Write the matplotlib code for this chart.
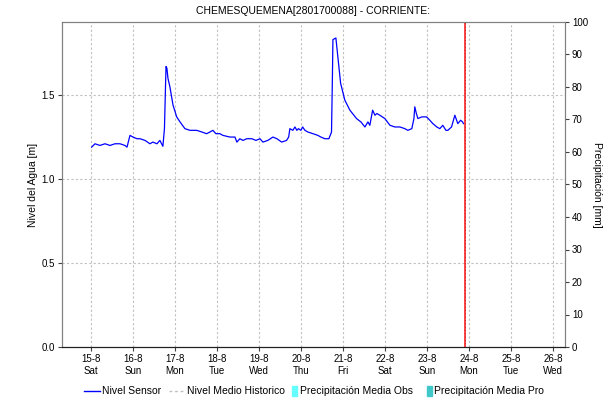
import numpy as np
import matplotlib.pyplot as plt
from matplotlib.lines import Line2D
from matplotlib.patches import Rectangle

plt.rcParams['font.family'] = ['Liberation Sans', 'DejaVu Sans']

# horas desde 15-8 00:00 y nivel del sensor [m]
horas = [0.4, 2.3, 5.1, 8, 10.9, 13.7, 16.6, 19.4, 20.6, 22.3, 24, 26.3, 28, 30.9,
         33.7, 35.4, 37.7, 39.4, 41.1, 42, 42.6, 42.9, 43.4, 44, 45.1, 46.9, 49,
         50.9, 53.7, 56.6, 60.4, 63.4, 66.1, 68, 69.7, 71.4, 73.7, 75.4, 79.4,
         82.3, 83.4, 85.1, 86.9, 89, 92, 94.3, 96.6, 98.3, 101.1, 104, 106.3, 109,
         111.8, 113, 113.7, 115.4, 116.6, 117.7, 118.6, 120, 121, 122.3, 124,
         126.9, 129.7, 131.4, 133.7, 136, 137.5, 138, 138.3, 140, 141.1, 142.7,
         145.1, 148, 151.8, 154.3, 156.6, 158.3, 159.4, 161, 162.3, 163.4, 165.1,
         168, 170.9, 173.7, 176.6, 179.4, 181.1, 183.4, 184.6, 185.1, 186, 186.9,
         189.1, 191.8, 193.7, 195.4, 197.7, 199.4, 201.1, 202.9, 204, 206.1, 208,
         209.7, 211.3, 212.4, 212.9]
nivel = [1.19, 1.21, 1.20, 1.21, 1.20, 1.21, 1.21, 1.20, 1.19, 1.26, 1.25, 1.24, 1.24, 1.23,
         1.21, 1.22, 1.21, 1.23, 1.195, 1.30, 1.55, 1.67, 1.66, 1.60, 1.55, 1.44, 1.37,
         1.34, 1.30, 1.29, 1.29, 1.28, 1.27, 1.28, 1.29, 1.27, 1.27, 1.26, 1.25,
         1.25, 1.22, 1.24, 1.23, 1.24, 1.24, 1.23, 1.24, 1.22, 1.23, 1.25, 1.24, 1.22,
         1.23, 1.25, 1.30, 1.29, 1.31, 1.29, 1.30, 1.29, 1.31, 1.29, 1.28,
         1.27, 1.26, 1.25, 1.24, 1.24, 1.28, 1.60, 1.83, 1.84, 1.73, 1.57,
         1.47, 1.41, 1.36, 1.34, 1.31, 1.34, 1.32, 1.41, 1.38, 1.39, 1.38,
         1.36, 1.32, 1.31, 1.31, 1.30, 1.29, 1.30, 1.36, 1.43, 1.39, 1.36,
         1.37, 1.37, 1.35, 1.33, 1.31, 1.30, 1.32, 1.29, 1.29, 1.31, 1.38,
         1.33, 1.35, 1.34, 1.33]

dias = [15, 16, 17, 18, 19, 20, 21, 22, 23, 24, 25, 26]
dias_semana = ['Sat', 'Sun', 'Mon', 'Tue', 'Wed', 'Thu', 'Fri', 'Sat', 'Sun', 'Mon', 'Tue', 'Wed']
ahora = 23.9  # linea roja (hora actual)

etiquetas = ['Nivel Sensor', 'Nivel Medio Historico', 'Precipitación Media Obs', 'Precipitación Media Pro']
colores_leyenda = ['#0000ff', '#c0c0c0', '#66ffff', '#40c8c8']

x = 15 + np.array(horas) / 24.0

W, H = 613, 401
fig = plt.figure(figsize=(W / 100, H / 100), dpi=100)
ax = fig.add_axes([62 / W, 1 - 347 / H, (565 - 62) / W, (347 - 22) / H])
ax2 = ax.twinx()

ax.plot(x, nivel, color='#0000ff', lw=0.9, zorder=3)

ax.set_xlim(14.31, 26.29)
ax.set_ylim(0, 1.935)
ax2.set_ylim(0, 100)

ax.set_xticks(dias)
ax.set_xticklabels([f'{d}-8\n{w}' for d, w in zip(dias, dias_semana)], fontsize=7)
ax.set_yticks([0, 0.5, 1.0, 1.5])
ax.set_yticklabels(['0.0', '0.5', '1.0', '1.5'], fontsize=7)
ax2.set_yticks(np.arange(0, 101, 10))
ax2.tick_params(axis='y', labelsize=7, length=3, pad=2, color='#404040')
ax.tick_params(axis='both', length=3, pad=2, color='#404040')

ax.grid(True, color='#c0c0c0', ls=(0, (2, 2)), lw=0.8)

# linea de hora actual
ax.axvline(ahora, color='#ff2020', lw=1.2, zorder=4)
ax.axvline(ahora, color='#902020', lw=0.6, ls=(0, (1, 3)), zorder=5)

for a in (ax, ax2):
    for s in ('left', 'right', 'top'):
        a.spines[s].set_color('#808080')
    a.spines['bottom'].set_color('#202020')
    a.spines['bottom'].set_linestyle((0, (1, 1)))

ax.set_ylabel('Nivel del Agua [m]', fontsize=7.5, labelpad=3)
ax2.set_ylabel('Precipitación [mm]', fontsize=7.5, rotation=270, labelpad=10)
ax.set_title('CHEMESQUEMENA[2801700088] - CORRIENTE:', fontsize=7.5, pad=6)

# leyenda manual (posiciones en pixeles de la figura)
def fx(px):
    return px / W

def fy(py):
    return 1 - py / H

yl = 391
tf = fig.transFigure
fig.add_artist(Line2D([fx(84), fx(100)], [fy(yl), fy(yl)], color=colores_leyenda[0], lw=1, transform=tf))
fig.text(fx(102), fy(yl), etiquetas[0], fontsize=7.5, va='center')
fig.add_artist(Line2D([fx(169), fx(185)], [fy(yl), fy(yl)], color=colores_leyenda[1], lw=1,
                      ls=(0, (2, 2)), transform=tf))
fig.text(fx(187), fy(yl), etiquetas[1], fontsize=7.5, va='center')
fig.add_artist(Rectangle((fx(292), fy(yl + 5)), 5 / W, 10 / H, color=colores_leyenda[2], transform=tf))
fig.text(fx(300), fy(yl), etiquetas[2], fontsize=7.5, va='center')
fig.add_artist(Rectangle((fx(427), fy(yl + 5)), 5 / W, 10 / H, color=colores_leyenda[3], transform=tf))
fig.text(fx(434), fy(yl), etiquetas[3], fontsize=7.5, va='center')

fig.savefig('out.png', dpi=100)
